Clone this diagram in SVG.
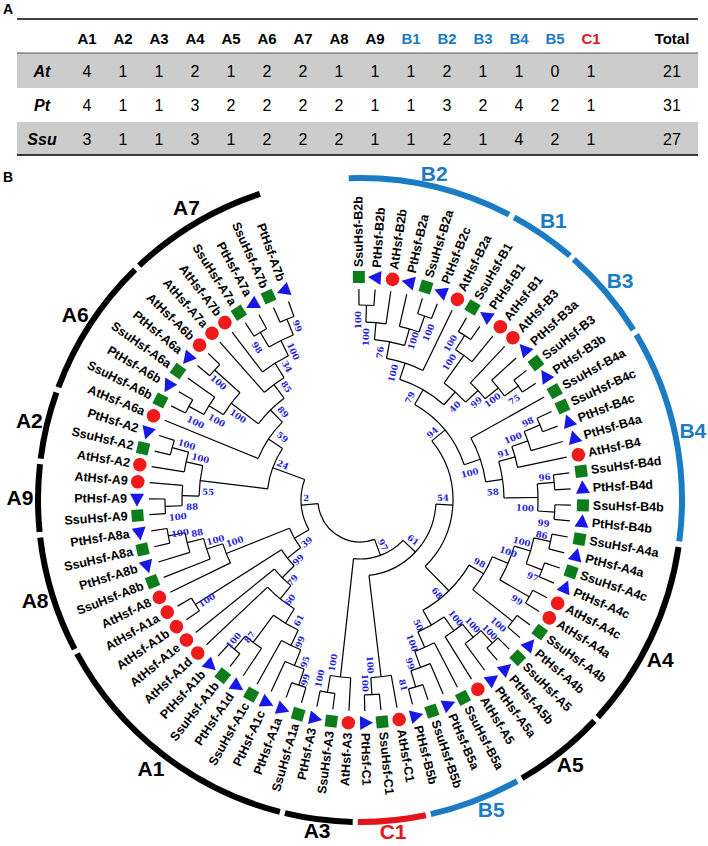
<svg xmlns="http://www.w3.org/2000/svg" xmlns:xlink="http://www.w3.org/1999/xlink" width="708" height="846" viewBox="0 0 708 846">
<style>
.pa{font-family:"Liberation Sans",Arial,sans-serif;font-weight:bold;font-size:14px}
.hd{font-family:"Liberation Sans",Arial,sans-serif;font-weight:bold;font-size:15px;text-anchor:middle;dominant-baseline:central}
.val{font-family:"Liberation Sans",Arial,sans-serif;font-size:16px;text-anchor:middle;dominant-baseline:central}
.rl{font-family:"Liberation Sans",Arial,sans-serif;font-weight:bold;font-style:italic;font-size:16px;text-anchor:middle;dominant-baseline:central}
.bl{fill:#1b7cc4}
.rd{fill:#e3141c}
.e{fill:none;stroke:#000;stroke-width:1.2}
.lf{font-family:"Liberation Sans",Arial,sans-serif;font-weight:bold;font-size:12.5px;dominant-baseline:central}
.ll{text-anchor:end}
.bs{font-family:"DejaVu Serif",serif;font-weight:bold;font-size:8.6px;fill:#2323d6;text-anchor:middle;dominant-baseline:central}
.ca{fill:none;stroke-width:6}
.cl{font-family:"Liberation Sans",Arial,sans-serif;font-weight:bold;font-size:21px;text-anchor:middle;dominant-baseline:central}
</style>
<defs>
<circle id="mc" r="6.8" fill="#f01a1a"/>
<rect id="ms" x="-6" y="-6" width="12" height="12" fill="#0d7d1c"/>
<path id="mt" d="M0,-8 L7,5 L-7,5Z" fill="#1717e6"/>
</defs>
<rect width="708" height="846" fill="#fff"/>
<g id="panel-a">
<text class="pa" x="3" y="14">A</text>
<rect x="17" y="53" width="681" height="35" fill="#cccccc"/>
<rect x="17" y="122" width="681" height="33" fill="#cccccc"/>
<line x1="17" y1="19" x2="698" y2="19" stroke="#000" stroke-width="1.5"/>
<line x1="17" y1="53" x2="698" y2="53" stroke="#555" stroke-width="1"/>
<line x1="17" y1="155" x2="698" y2="155" stroke="#000" stroke-width="1.5"/>
<g class="hd">
<text x="87" y="38">A1</text><text x="123" y="38">A2</text><text x="159" y="38">A3</text><text x="195" y="38">A4</text><text x="231" y="38">A5</text><text x="267" y="38">A6</text><text x="303" y="38">A7</text><text x="339" y="38">A8</text><text x="375" y="38">A9</text>
<text class="bl" x="411" y="38">B1</text><text class="bl" x="447" y="38">B2</text><text class="bl" x="483" y="38">B3</text><text class="bl" x="519" y="38">B4</text><text class="bl" x="555" y="38">B5</text><text class="rd" x="591" y="38">C1</text><text x="672" y="38">Total</text>
</g>
<text class="rl" x="42" y="71">At</text><text class="rl" x="42" y="105">Pt</text><text class="rl" x="42" y="139">Ssu</text>
<g class="val">
<text x="87" y="71">4</text><text x="123" y="71">1</text><text x="159" y="71">1</text><text x="195" y="71">2</text><text x="231" y="71">1</text><text x="267" y="71">2</text><text x="303" y="71">2</text><text x="339" y="71">1</text><text x="375" y="71">1</text><text x="411" y="71">1</text><text x="447" y="71">2</text><text x="483" y="71">1</text><text x="519" y="71">1</text><text x="555" y="71">0</text><text x="591" y="71">1</text><text x="672" y="71">21</text>
<text x="87" y="105">4</text><text x="123" y="105">1</text><text x="159" y="105">1</text><text x="195" y="105">3</text><text x="231" y="105">2</text><text x="267" y="105">2</text><text x="303" y="105">2</text><text x="339" y="105">2</text><text x="375" y="105">1</text><text x="411" y="105">1</text><text x="447" y="105">3</text><text x="483" y="105">2</text><text x="519" y="105">4</text><text x="555" y="105">2</text><text x="591" y="105">1</text><text x="672" y="105">31</text>
<text x="87" y="139">3</text><text x="123" y="139">1</text><text x="159" y="139">1</text><text x="195" y="139">3</text><text x="231" y="139">1</text><text x="267" y="139">2</text><text x="303" y="139">2</text><text x="339" y="139">2</text><text x="375" y="139">1</text><text x="411" y="139">1</text><text x="447" y="139">2</text><text x="483" y="139">1</text><text x="519" y="139">4</text><text x="555" y="139">2</text><text x="591" y="139">1</text><text x="672" y="139">27</text>
</g>
</g>
<text class="pa" x="3" y="182">B</text>
<g id="tree" transform="translate(360 500)">
<g id="connectors" class="e">
<circle r="195" pathLength="360" stroke-dasharray="4.4 720" transform="rotate(-90.3)"/>
<circle r="178" pathLength="360" stroke-dasharray="6.5 720" transform="rotate(-88.1)"/>
<circle r="195" pathLength="360" stroke-dasharray="4.3 720" transform="rotate(-72.8)"/>
<circle r="178" pathLength="360" stroke-dasharray="6.55 720" transform="rotate(-77.2)"/>
<circle r="161" pathLength="360" stroke-dasharray="10.95 720" transform="rotate(-84.85)"/>
<circle r="144" pathLength="360" stroke-dasharray="15.3 720" transform="rotate(-79.4)"/>
<circle r="195" pathLength="360" stroke-dasharray="4.3 720" transform="rotate(-59.7)"/>
<circle r="178" pathLength="360" stroke-dasharray="6.55 720" transform="rotate(-57.55)"/>
<circle r="195" pathLength="360" stroke-dasharray="4.3 720" transform="rotate(-37.9)"/>
<circle r="178" pathLength="360" stroke-dasharray="6.55 720" transform="rotate(-42.3)"/>
<circle r="161" pathLength="360" stroke-dasharray="7.7 720" transform="rotate(-46.7)"/>
<circle r="144" pathLength="360" stroke-dasharray="11.45 720" transform="rotate(-54.3)"/>
<circle r="127" pathLength="360" stroke-dasharray="23.15 720" transform="rotate(-71.75)"/>
<circle r="195" pathLength="360" stroke-dasharray="4.3 720" transform="rotate(-24.8)"/>
<circle r="178" pathLength="360" stroke-dasharray="6.55 720" transform="rotate(-22.65)"/>
<circle r="161" pathLength="360" stroke-dasharray="7.7 720" transform="rotate(-19.4)"/>
<circle r="195" pathLength="360" stroke-dasharray="4.4 720" transform="rotate(-7.4)"/>
<circle r="195" pathLength="360" stroke-dasharray="4.3 720" transform="rotate(1.4)"/>
<circle r="178" pathLength="360" stroke-dasharray="8.75 720" transform="rotate(-5.2)"/>
<circle r="144" pathLength="360" stroke-dasharray="14.75 720" transform="rotate(-15.55)"/>
<circle r="127" pathLength="360" stroke-dasharray="21 720" transform="rotate(-29.2)"/>
<circle r="110" pathLength="360" stroke-dasharray="41.5 720" transform="rotate(-60.2)"/>
<circle r="195" pathLength="360" stroke-dasharray="4.4 720" transform="rotate(10.1)"/>
<circle r="195" pathLength="360" stroke-dasharray="4.4 720" transform="rotate(18.8)"/>
<circle r="178" pathLength="360" stroke-dasharray="8.7 720" transform="rotate(12.3)"/>
<circle r="195" pathLength="360" stroke-dasharray="4.3 720" transform="rotate(27.6)"/>
<circle r="161" pathLength="360" stroke-dasharray="13.1 720" transform="rotate(16.65)"/>
<circle r="195" pathLength="360" stroke-dasharray="4.4 720" transform="rotate(36.3)"/>
<circle r="144" pathLength="360" stroke-dasharray="15.3 720" transform="rotate(23.2)"/>
<circle r="195" pathLength="360" stroke-dasharray="4.4 720" transform="rotate(45)"/>
<circle r="178" pathLength="360" stroke-dasharray="6.6 720" transform="rotate(47.2)"/>
<circle r="161" pathLength="360" stroke-dasharray="7.6 720" transform="rotate(50.5)"/>
<circle r="195" pathLength="360" stroke-dasharray="4.4 720" transform="rotate(71.2)"/>
<circle r="178" pathLength="360" stroke-dasharray="6.6 720" transform="rotate(66.8)"/>
<circle r="161" pathLength="360" stroke-dasharray="7.6 720" transform="rotate(62.5)"/>
<circle r="144" pathLength="360" stroke-dasharray="12 720" transform="rotate(54.3)"/>
<circle r="127" pathLength="360" stroke-dasharray="29.45 720" transform="rotate(30.85)"/>
<circle r="93" pathLength="360" stroke-dasharray="85.05 720" transform="rotate(-39.45)"/>
<circle r="195" pathLength="360" stroke-dasharray="4.4 720" transform="rotate(84.3)"/>
<circle r="178" pathLength="360" stroke-dasharray="6.6 720" transform="rotate(79.9)"/>
<circle r="76" pathLength="360" stroke-dasharray="80.1 720" transform="rotate(3.1)"/>
<circle r="195" pathLength="360" stroke-dasharray="4.4 720" transform="rotate(97.4)"/>
<circle r="178" pathLength="360" stroke-dasharray="6.6 720" transform="rotate(93)"/>
<circle r="59" pathLength="360" stroke-dasharray="53.15 720" transform="rotate(43.15)"/>
<circle r="195" pathLength="360" stroke-dasharray="4.4 720" transform="rotate(106.1)"/>
<circle r="178" pathLength="360" stroke-dasharray="6.6 720" transform="rotate(108.3)"/>
<circle r="161" pathLength="360" stroke-dasharray="7.6 720" transform="rotate(111.6)"/>
<circle r="195" pathLength="360" stroke-dasharray="4.3 720" transform="rotate(128)"/>
<circle r="178" pathLength="360" stroke-dasharray="6.55 720" transform="rotate(123.6)"/>
<circle r="144" pathLength="360" stroke-dasharray="11.5 720" transform="rotate(115.4)"/>
<circle r="127" pathLength="360" stroke-dasharray="15.55 720" transform="rotate(121.15)"/>
<circle r="110" pathLength="360" stroke-dasharray="12.2 720" transform="rotate(128.9)"/>
<circle r="195" pathLength="360" stroke-dasharray="4.4 720" transform="rotate(145.4)"/>
<circle r="93" pathLength="360" stroke-dasharray="12.6 720" transform="rotate(135)"/>
<circle r="195" pathLength="360" stroke-dasharray="4.4 720" transform="rotate(167.2)"/>
<circle r="178" pathLength="360" stroke-dasharray="6.5 720" transform="rotate(162.9)"/>
<circle r="161" pathLength="360" stroke-dasharray="7.65 720" transform="rotate(158.5)"/>
<circle r="144" pathLength="360" stroke-dasharray="8.2 720" transform="rotate(154.1)"/>
<circle r="76" pathLength="360" stroke-dasharray="16.9 720" transform="rotate(141.3)"/>
<circle r="195" pathLength="360" stroke-dasharray="4.3 720" transform="rotate(176)"/>
<circle r="178" pathLength="360" stroke-dasharray="6.55 720" transform="rotate(178.15)"/>
<circle r="195" pathLength="360" stroke-dasharray="4.4 720" transform="rotate(193.4)"/>
<circle r="178" pathLength="360" stroke-dasharray="6.5 720" transform="rotate(189.1)"/>
<circle r="161" pathLength="360" stroke-dasharray="10.95 720" transform="rotate(181.4)"/>
<circle r="195" pathLength="360" stroke-dasharray="4.4 720" transform="rotate(206.5)"/>
<circle r="178" pathLength="360" stroke-dasharray="6.6 720" transform="rotate(208.7)"/>
<circle r="195" pathLength="360" stroke-dasharray="4.4 720" transform="rotate(219.6)"/>
<circle r="161" pathLength="360" stroke-dasharray="9.8 720" transform="rotate(212)"/>
<circle r="195" pathLength="360" stroke-dasharray="4.3 720" transform="rotate(237.1)"/>
<circle r="195" pathLength="360" stroke-dasharray="4.4 720" transform="rotate(245.8)"/>
<circle r="178" pathLength="360" stroke-dasharray="8.75 720" transform="rotate(239.25)"/>
<circle r="161" pathLength="360" stroke-dasharray="10.9 720" transform="rotate(232.7)"/>
<circle r="144" pathLength="360" stroke-dasharray="9.75 720" transform="rotate(228.4)"/>
<circle r="127" pathLength="360" stroke-dasharray="16.4 720" transform="rotate(216.9)"/>
<circle r="110" pathLength="360" stroke-dasharray="22.9 720" transform="rotate(202.2)"/>
<circle r="93" pathLength="360" stroke-dasharray="26.75 720" transform="rotate(186.9)"/>
<circle r="59" pathLength="360" stroke-dasharray="50.55 720" transform="rotate(149.75)"/>
<circle r="42" pathLength="360" stroke-dasharray="105.3 720" transform="rotate(69.7)"/>
<path transform="rotate(-90.3)" d="M195 0H211"/>
<path transform="rotate(-85.9)" d="M195 0H211"/>
<path transform="rotate(-81.6)" d="M178 0H211"/>
<path transform="rotate(-77.2)" d="M178 0H211"/>
<path transform="rotate(-72.8)" d="M195 0H211"/>
<path transform="rotate(-68.5)" d="M195 0H211"/>
<path transform="rotate(-64.1)" d="M144 0H211"/>
<path transform="rotate(-59.7)" d="M195 0H211"/>
<path transform="rotate(-55.4)" d="M195 0H211"/>
<path transform="rotate(-51)" d="M178 0H211"/>
<path transform="rotate(-46.7)" d="M161 0H211"/>
<path transform="rotate(-42.3)" d="M178 0H211"/>
<path transform="rotate(-37.9)" d="M195 0H211"/>
<path transform="rotate(-33.6)" d="M195 0H211"/>
<path transform="rotate(-29.2)" d="M127 0H211"/>
<path transform="rotate(-24.8)" d="M195 0H211"/>
<path transform="rotate(-20.5)" d="M195 0H211"/>
<path transform="rotate(-16.1)" d="M178 0H211"/>
<path transform="rotate(-11.7)" d="M161 0H211"/>
<path transform="rotate(-7.4)" d="M195 0H211"/>
<path transform="rotate(-3)" d="M195 0H211"/>
<path transform="rotate(1.4)" d="M195 0H211"/>
<path transform="rotate(5.7)" d="M195 0H211"/>
<path transform="rotate(10.1)" d="M195 0H211"/>
<path transform="rotate(14.5)" d="M195 0H211"/>
<path transform="rotate(18.8)" d="M195 0H211"/>
<path transform="rotate(23.2)" d="M195 0H211"/>
<path transform="rotate(27.6)" d="M195 0H211"/>
<path transform="rotate(31.9)" d="M195 0H211"/>
<path transform="rotate(36.3)" d="M195 0H211"/>
<path transform="rotate(40.7)" d="M195 0H211"/>
<path transform="rotate(45)" d="M195 0H211"/>
<path transform="rotate(49.4)" d="M195 0H211"/>
<path transform="rotate(53.8)" d="M178 0H211"/>
<path transform="rotate(58.1)" d="M161 0H211"/>
<path transform="rotate(62.5)" d="M161 0H211"/>
<path transform="rotate(66.8)" d="M178 0H211"/>
<path transform="rotate(71.2)" d="M195 0H211"/>
<path transform="rotate(75.6)" d="M195 0H211"/>
<path transform="rotate(79.9)" d="M178 0H211"/>
<path transform="rotate(84.3)" d="M195 0H211"/>
<path transform="rotate(88.7)" d="M195 0H211"/>
<path transform="rotate(93)" d="M178 0H211"/>
<path transform="rotate(97.4)" d="M195 0H211"/>
<path transform="rotate(101.8)" d="M195 0H211"/>
<path transform="rotate(106.1)" d="M195 0H211"/>
<path transform="rotate(110.5)" d="M195 0H211"/>
<path transform="rotate(114.9)" d="M178 0H211"/>
<path transform="rotate(119.2)" d="M161 0H211"/>
<path transform="rotate(123.6)" d="M178 0H211"/>
<path transform="rotate(128)" d="M195 0H211"/>
<path transform="rotate(132.3)" d="M195 0H211"/>
<path transform="rotate(136.7)" d="M127 0H211"/>
<path transform="rotate(141.1)" d="M110 0H211"/>
<path transform="rotate(145.4)" d="M195 0H211"/>
<path transform="rotate(149.8)" d="M195 0H211"/>
<path transform="rotate(154.1)" d="M144 0H211"/>
<path transform="rotate(158.5)" d="M161 0H211"/>
<path transform="rotate(162.9)" d="M178 0H211"/>
<path transform="rotate(167.2)" d="M195 0H211"/>
<path transform="rotate(171.6)" d="M195 0H211"/>
<path transform="rotate(176)" d="M195 0H211"/>
<path transform="rotate(180.3)" d="M195 0H211"/>
<path transform="rotate(184.7)" d="M178 0H211"/>
<path transform="rotate(189.1)" d="M178 0H211"/>
<path transform="rotate(193.4)" d="M195 0H211"/>
<path transform="rotate(197.8)" d="M195 0H211"/>
<path transform="rotate(202.2)" d="M110 0H211"/>
<path transform="rotate(206.5)" d="M195 0H211"/>
<path transform="rotate(210.9)" d="M195 0H211"/>
<path transform="rotate(215.3)" d="M178 0H211"/>
<path transform="rotate(219.6)" d="M195 0H211"/>
<path transform="rotate(224)" d="M195 0H211"/>
<path transform="rotate(228.4)" d="M144 0H211"/>
<path transform="rotate(232.7)" d="M161 0H211"/>
<path transform="rotate(237.1)" d="M195 0H211"/>
<path transform="rotate(241.4)" d="M195 0H211"/>
<path transform="rotate(245.8)" d="M195 0H211"/>
<path transform="rotate(250.2)" d="M195 0H211"/>
<path transform="rotate(-88.1)" d="M178 0H195"/>
<path transform="rotate(-84.85)" d="M161 0H178"/>
<path transform="rotate(-70.65)" d="M178 0H195"/>
<path transform="rotate(-73.9)" d="M161 0H178"/>
<path transform="rotate(-79.4)" d="M144 0H161"/>
<path transform="rotate(-71.75)" d="M127 0H144"/>
<path transform="rotate(-57.55)" d="M178 0H195"/>
<path transform="rotate(-54.3)" d="M144 0H178"/>
<path transform="rotate(-35.75)" d="M178 0H195"/>
<path transform="rotate(-39)" d="M161 0H178"/>
<path transform="rotate(-42.85)" d="M144 0H161"/>
<path transform="rotate(-48.6)" d="M127 0H144"/>
<path transform="rotate(-60.2)" d="M110 0H127"/>
<path transform="rotate(-22.65)" d="M178 0H195"/>
<path transform="rotate(-19.4)" d="M161 0H178"/>
<path transform="rotate(-15.55)" d="M144 0H161"/>
<path transform="rotate(-5.2)" d="M178 0H195"/>
<path transform="rotate(3.55)" d="M178 0H195"/>
<path transform="rotate(-0.8)" d="M144 0H178"/>
<path transform="rotate(-8.2)" d="M127 0H144"/>
<path transform="rotate(-18.7)" d="M110 0H127"/>
<path transform="rotate(-39.45)" d="M93 0H110"/>
<path transform="rotate(12.3)" d="M178 0H195"/>
<path transform="rotate(21)" d="M178 0H195"/>
<path transform="rotate(16.65)" d="M161 0H178"/>
<path transform="rotate(29.75)" d="M161 0H195"/>
<path transform="rotate(23.2)" d="M144 0H161"/>
<path transform="rotate(38.5)" d="M144 0H195"/>
<path transform="rotate(30.85)" d="M127 0H144"/>
<path transform="rotate(47.2)" d="M178 0H195"/>
<path transform="rotate(50.5)" d="M161 0H178"/>
<path transform="rotate(54.3)" d="M144 0H161"/>
<path transform="rotate(73.4)" d="M178 0H195"/>
<path transform="rotate(70.1)" d="M161 0H178"/>
<path transform="rotate(66.3)" d="M144 0H161"/>
<path transform="rotate(60.3)" d="M127 0H144"/>
<path transform="rotate(45.6)" d="M93 0H127"/>
<path transform="rotate(3.1)" d="M76 0H93"/>
<path transform="rotate(86.5)" d="M178 0H195"/>
<path transform="rotate(83.2)" d="M76 0H178"/>
<path transform="rotate(43.15)" d="M59 0H76"/>
<path transform="rotate(99.6)" d="M178 0H195"/>
<path transform="rotate(96.3)" d="M59 0H178"/>
<path transform="rotate(69.7)" d="M42 0H59"/>
<path transform="rotate(108.3)" d="M178 0H195"/>
<path transform="rotate(111.6)" d="M161 0H178"/>
<path transform="rotate(115.4)" d="M144 0H161"/>
<path transform="rotate(130.15)" d="M178 0H195"/>
<path transform="rotate(126.9)" d="M144 0H178"/>
<path transform="rotate(121.15)" d="M127 0H144"/>
<path transform="rotate(128.9)" d="M110 0H127"/>
<path transform="rotate(135)" d="M93 0H110"/>
<path transform="rotate(147.6)" d="M93 0H195"/>
<path transform="rotate(141.3)" d="M76 0H93"/>
<path transform="rotate(169.4)" d="M178 0H195"/>
<path transform="rotate(166.15)" d="M161 0H178"/>
<path transform="rotate(162.3)" d="M144 0H161"/>
<path transform="rotate(158.2)" d="M76 0H144"/>
<path transform="rotate(149.75)" d="M59 0H76"/>
<path transform="rotate(178.15)" d="M178 0H195"/>
<path transform="rotate(181.4)" d="M161 0H178"/>
<path transform="rotate(195.6)" d="M178 0H195"/>
<path transform="rotate(192.35)" d="M161 0H178"/>
<path transform="rotate(186.9)" d="M93 0H161"/>
<path transform="rotate(208.7)" d="M178 0H195"/>
<path transform="rotate(212)" d="M161 0H178"/>
<path transform="rotate(221.8)" d="M161 0H195"/>
<path transform="rotate(216.9)" d="M127 0H161"/>
<path transform="rotate(239.25)" d="M178 0H195"/>
<path transform="rotate(248)" d="M178 0H195"/>
<path transform="rotate(243.6)" d="M161 0H178"/>
<path transform="rotate(238.15)" d="M144 0H161"/>
<path transform="rotate(233.3)" d="M127 0H144"/>
<path transform="rotate(225.1)" d="M110 0H127"/>
<path transform="rotate(213.65)" d="M93 0H110"/>
<path transform="rotate(200.3)" d="M59 0H93"/>
<path transform="rotate(175)" d="M42 0H59"/>
</g>
<g id="leaves">
<g id="n-SsuHsf-B2b" transform="rotate(-90.3)"><use href="#ms" x="223"/><text class="lf" x="233">SsuHsf-B2b</text></g>
<g id="n-PtHsf-B2b" transform="rotate(-85.9)"><use href="#mt" x="223"/><text class="lf" x="233">PtHsf-B2b</text></g>
<g id="n-AtHsf-B2b" transform="rotate(-81.6)"><use href="#mc" x="223"/><text class="lf" x="233">AtHsf-B2b</text></g>
<g id="n-PtHsf-B2a" transform="rotate(-77.2)"><use href="#mt" x="223"/><text class="lf" x="233">PtHsf-B2a</text></g>
<g id="n-SsuHsf-B2a" transform="rotate(-72.8)"><use href="#ms" x="223"/><text class="lf" x="233">SsuHsf-B2a</text></g>
<g id="n-PtHsf-B2c" transform="rotate(-68.5)"><use href="#mt" x="223"/><text class="lf" x="233">PtHsf-B2c</text></g>
<g id="n-AtHsf-B2a" transform="rotate(-64.1)"><use href="#mc" x="223"/><text class="lf" x="233">AtHsf-B2a</text></g>
<g id="n-SsuHsf-B1" transform="rotate(-59.7)"><use href="#ms" x="223"/><text class="lf" x="233">SsuHsf-B1</text></g>
<g id="n-PtHsf-B1" transform="rotate(-55.4)"><use href="#mt" x="223"/><text class="lf" x="233">PtHsf-B1</text></g>
<g id="n-AtHsf-B1" transform="rotate(-51)"><use href="#mc" x="223"/><text class="lf" x="233">AtHsf-B1</text></g>
<g id="n-AtHsf-B3" transform="rotate(-46.7)"><use href="#mc" x="223"/><text class="lf" x="233">AtHsf-B3</text></g>
<g id="n-PtHsf-B3a" transform="rotate(-42.3)"><use href="#mt" x="223"/><text class="lf" x="233">PtHsf-B3a</text></g>
<g id="n-SsuHsf-B3" transform="rotate(-37.9)"><use href="#ms" x="223"/><text class="lf" x="233">SsuHsf-B3</text></g>
<g id="n-PtHsf-B3b" transform="rotate(-33.6)"><use href="#mt" x="223"/><text class="lf" x="233">PtHsf-B3b</text></g>
<g id="n-SsuHsf-B4a" transform="rotate(-29.2)"><use href="#ms" x="223"/><text class="lf" x="233">SsuHsf-B4a</text></g>
<g id="n-SsuHsf-B4c" transform="rotate(-24.8)"><use href="#ms" x="223"/><text class="lf" x="233">SsuHsf-B4c</text></g>
<g id="n-PtHsf-B4c" transform="rotate(-20.5)"><use href="#mt" x="223"/><text class="lf" x="233">PtHsf-B4c</text></g>
<g id="n-PtHsf-B4a" transform="rotate(-16.1)"><use href="#mt" x="223"/><text class="lf" x="233">PtHsf-B4a</text></g>
<g id="n-AtHsf-B4" transform="rotate(-11.7)"><use href="#mc" x="223"/><text class="lf" x="233">AtHsf-B4</text></g>
<g id="n-SsuHsf-B4d" transform="rotate(-7.4)"><use href="#ms" x="223"/><text class="lf" x="233">SsuHsf-B4d</text></g>
<g id="n-PtHsf-B4d" transform="rotate(-3)"><use href="#mt" x="223"/><text class="lf" x="233">PtHsf-B4d</text></g>
<g id="n-SsuHsf-B4b" transform="rotate(1.4)"><use href="#ms" x="223"/><text class="lf" x="233">SsuHsf-B4b</text></g>
<g id="n-PtHsf-B4b" transform="rotate(5.7)"><use href="#mt" x="223"/><text class="lf" x="233">PtHsf-B4b</text></g>
<g id="n-SsuHsf-A4a" transform="rotate(10.1)"><use href="#ms" x="223"/><text class="lf" x="233">SsuHsf-A4a</text></g>
<g id="n-PtHsf-A4a" transform="rotate(14.5)"><use href="#mt" x="223"/><text class="lf" x="233">PtHsf-A4a</text></g>
<g id="n-SsuHsf-A4c" transform="rotate(18.8)"><use href="#ms" x="223"/><text class="lf" x="233">SsuHsf-A4c</text></g>
<g id="n-PtHsf-A4c" transform="rotate(23.2)"><use href="#mt" x="223"/><text class="lf" x="233">PtHsf-A4c</text></g>
<g id="n-AtHsf-A4c" transform="rotate(27.6)"><use href="#mc" x="223"/><text class="lf" x="233">AtHsf-A4c</text></g>
<g id="n-AtHsf-A4a" transform="rotate(31.9)"><use href="#mc" x="223"/><text class="lf" x="233">AtHsf-A4a</text></g>
<g id="n-SsuHsf-A4b" transform="rotate(36.3)"><use href="#ms" x="223"/><text class="lf" x="233">SsuHsf-A4b</text></g>
<g id="n-PtHsf-A4b" transform="rotate(40.7)"><use href="#mt" x="223"/><text class="lf" x="233">PtHsf-A4b</text></g>
<g id="n-SsuHsf-A5" transform="rotate(45)"><use href="#ms" x="223"/><text class="lf" x="233">SsuHsf-A5</text></g>
<g id="n-PtHsf-A5b" transform="rotate(49.4)"><use href="#mt" x="223"/><text class="lf" x="233">PtHsf-A5b</text></g>
<g id="n-PtHsf-A5a" transform="rotate(53.8)"><use href="#mt" x="223"/><text class="lf" x="233">PtHsf-A5a</text></g>
<g id="n-AtHsf-A5" transform="rotate(58.1)"><use href="#mc" x="223"/><text class="lf" x="233">AtHsf-A5</text></g>
<g id="n-SsuHsf-B5a" transform="rotate(62.5)"><use href="#ms" x="223"/><text class="lf" x="233">SsuHsf-B5a</text></g>
<g id="n-PtHsf-B5a" transform="rotate(66.8)"><use href="#mt" x="223"/><text class="lf" x="233">PtHsf-B5a</text></g>
<g id="n-SsuHsf-B5b" transform="rotate(71.2)"><use href="#ms" x="223"/><text class="lf" x="233">SsuHsf-B5b</text></g>
<g id="n-PtHsf-B5b" transform="rotate(75.6)"><use href="#mt" x="223"/><text class="lf" x="233">PtHsf-B5b</text></g>
<g id="n-AtHsf-C1" transform="rotate(79.9)"><use href="#mc" x="223"/><text class="lf" x="233">AtHsf-C1</text></g>
<g id="n-SsuHsf-C1" transform="rotate(84.3)"><use href="#ms" x="223"/><text class="lf" x="233">SsuHsf-C1</text></g>
<g id="n-PtHsf-C1" transform="rotate(88.7)"><use href="#mt" x="223"/><text class="lf" x="233">PtHsf-C1</text></g>
<g id="n-AtHsf-A3" transform="rotate(93)"><use href="#mc" x="223"/><text class="lf ll" x="233" transform="rotate(180 233 0)">AtHsf-A3</text></g>
<g id="n-SsuHsf-A3" transform="rotate(97.4)"><use href="#ms" x="223"/><text class="lf ll" x="233" transform="rotate(180 233 0)">SsuHsf-A3</text></g>
<g id="n-PtHsf-A3" transform="rotate(101.8)"><use href="#mt" x="223"/><text class="lf ll" x="233" transform="rotate(180 233 0)">PtHsf-A3</text></g>
<g id="n-SsuHsf-A1a" transform="rotate(106.1)"><use href="#ms" x="223"/><text class="lf ll" x="233" transform="rotate(180 233 0)">SsuHsf-A1a</text></g>
<g id="n-PtHsf-A1a" transform="rotate(110.5)"><use href="#mt" x="223"/><text class="lf ll" x="233" transform="rotate(180 233 0)">PtHsf-A1a</text></g>
<g id="n-PtHsf-A1c" transform="rotate(114.9)"><use href="#mt" x="223"/><text class="lf ll" x="233" transform="rotate(180 233 0)">PtHsf-A1c</text></g>
<g id="n-SsuHsf-A1c" transform="rotate(119.2)"><use href="#ms" x="223"/><text class="lf ll" x="233" transform="rotate(180 233 0)">SsuHsf-A1c</text></g>
<g id="n-PtHsf-A1d" transform="rotate(123.6)"><use href="#mt" x="223"/><text class="lf ll" x="233" transform="rotate(180 233 0)">PtHsf-A1d</text></g>
<g id="n-SsuHsf-A1b" transform="rotate(128)"><use href="#ms" x="223"/><text class="lf ll" x="233" transform="rotate(180 233 0)">SsuHsf-A1b</text></g>
<g id="n-PtHsf-A1b" transform="rotate(132.3)"><use href="#mt" x="223"/><text class="lf ll" x="233" transform="rotate(180 233 0)">PtHsf-A1b</text></g>
<g id="n-AtHsf-A1d" transform="rotate(136.7)"><use href="#mc" x="223"/><text class="lf ll" x="233" transform="rotate(180 233 0)">AtHsf-A1d</text></g>
<g id="n-AtHsf-A1e" transform="rotate(141.1)"><use href="#mc" x="223"/><text class="lf ll" x="233" transform="rotate(180 233 0)">AtHsf-A1e</text></g>
<g id="n-AtHsf-A1b" transform="rotate(145.4)"><use href="#mc" x="223"/><text class="lf ll" x="233" transform="rotate(180 233 0)">AtHsf-A1b</text></g>
<g id="n-AtHsf-A1a" transform="rotate(149.8)"><use href="#mc" x="223"/><text class="lf ll" x="233" transform="rotate(180 233 0)">AtHsf-A1a</text></g>
<g id="n-AtHsf-A8" transform="rotate(154.1)"><use href="#mc" x="223"/><text class="lf ll" x="233" transform="rotate(180 233 0)">AtHsf-A8</text></g>
<g id="n-SsuHsf-A8b" transform="rotate(158.5)"><use href="#ms" x="223"/><text class="lf ll" x="233" transform="rotate(180 233 0)">SsuHsf-A8b</text></g>
<g id="n-PtHsf-A8b" transform="rotate(162.9)"><use href="#mt" x="223"/><text class="lf ll" x="233" transform="rotate(180 233 0)">PtHsf-A8b</text></g>
<g id="n-SsuHsf-A8a" transform="rotate(167.2)"><use href="#ms" x="223"/><text class="lf ll" x="233" transform="rotate(180 233 0)">SsuHsf-A8a</text></g>
<g id="n-PtHsf-A8a" transform="rotate(171.6)"><use href="#mt" x="223"/><text class="lf ll" x="233" transform="rotate(180 233 0)">PtHsf-A8a</text></g>
<g id="n-SsuHsf-A9" transform="rotate(176)"><use href="#ms" x="223"/><text class="lf ll" x="233" transform="rotate(180 233 0)">SsuHsf-A9</text></g>
<g id="n-PtHsf-A9" transform="rotate(180.3)"><use href="#mt" x="223"/><text class="lf ll" x="233" transform="rotate(180 233 0)">PtHsf-A9</text></g>
<g id="n-AtHsf-A9" transform="rotate(184.7)"><use href="#mc" x="223"/><text class="lf ll" x="233" transform="rotate(180 233 0)">AtHsf-A9</text></g>
<g id="n-AtHsf-A2" transform="rotate(189.1)"><use href="#mc" x="223"/><text class="lf ll" x="233" transform="rotate(180 233 0)">AtHsf-A2</text></g>
<g id="n-SsuHsf-A2" transform="rotate(193.4)"><use href="#ms" x="223"/><text class="lf ll" x="233" transform="rotate(180 233 0)">SsuHsf-A2</text></g>
<g id="n-PtHsf-A2" transform="rotate(197.8)"><use href="#mt" x="223"/><text class="lf ll" x="233" transform="rotate(180 233 0)">PtHsf-A2</text></g>
<g id="n-AtHsf-A6a" transform="rotate(202.2)"><use href="#mc" x="223"/><text class="lf ll" x="233" transform="rotate(180 233 0)">AtHsf-A6a</text></g>
<g id="n-SsuHsf-A6b" transform="rotate(206.5)"><use href="#ms" x="223"/><text class="lf ll" x="233" transform="rotate(180 233 0)">SsuHsf-A6b</text></g>
<g id="n-PtHsf-A6b" transform="rotate(210.9)"><use href="#mt" x="223"/><text class="lf ll" x="233" transform="rotate(180 233 0)">PtHsf-A6b</text></g>
<g id="n-SsuHsf-A6a" transform="rotate(215.3)"><use href="#ms" x="223"/><text class="lf ll" x="233" transform="rotate(180 233 0)">SsuHsf-A6a</text></g>
<g id="n-PtHsf-A6a" transform="rotate(219.6)"><use href="#mt" x="223"/><text class="lf ll" x="233" transform="rotate(180 233 0)">PtHsf-A6a</text></g>
<g id="n-AtHsf-A6b" transform="rotate(224)"><use href="#mc" x="223"/><text class="lf ll" x="233" transform="rotate(180 233 0)">AtHsf-A6b</text></g>
<g id="n-AtHsf-A7a" transform="rotate(228.4)"><use href="#mc" x="223"/><text class="lf ll" x="233" transform="rotate(180 233 0)">AtHsf-A7a</text></g>
<g id="n-AtHsf-A7b" transform="rotate(232.7)"><use href="#mc" x="223"/><text class="lf ll" x="233" transform="rotate(180 233 0)">AtHsf-A7b</text></g>
<g id="n-SsuHsf-A7a" transform="rotate(237.1)"><use href="#ms" x="223"/><text class="lf ll" x="233" transform="rotate(180 233 0)">SsuHsf-A7a</text></g>
<g id="n-PtHsf-A7a" transform="rotate(241.4)"><use href="#mt" x="223"/><text class="lf ll" x="233" transform="rotate(180 233 0)">PtHsf-A7a</text></g>
<g id="n-SsuHsf-A7b" transform="rotate(245.8)"><use href="#ms" x="223"/><text class="lf ll" x="233" transform="rotate(180 233 0)">SsuHsf-A7b</text></g>
<g id="n-PtHsf-A7b" transform="rotate(250.2)"><use href="#mt" x="223"/><text class="lf ll" x="233" transform="rotate(180 233 0)">PtHsf-A7b</text></g>
</g>
<g id="bootstrap">
<text class="bs" transform="rotate(-90.6) translate(180 0)">100</text>
<text class="bs" transform="rotate(-87.9) translate(163 0)">100</text>
<text class="bs" transform="rotate(-82.3) translate(149 0)">76</text>
<text class="bs" transform="rotate(-75.4) translate(131 0)">100</text>
<text class="bs" transform="rotate(-71.5) translate(168 0)">100</text>
<text class="bs" transform="rotate(-67.7) translate(181 0)">100</text>
<text class="bs" transform="rotate(-60) translate(181 0)">100</text>
<text class="bs" transform="rotate(-57) translate(164 0)">100</text>
<text class="bs" transform="rotate(-33) translate(184 0)">75</text>
<text class="bs" transform="rotate(-37) translate(166 0)">100</text>
<text class="bs" transform="rotate(-40) translate(152 0)">99</text>
<text class="bs" transform="rotate(-44.4) translate(133 0)">40</text>
<text class="bs" transform="rotate(-64) translate(114 0)">79</text>
<text class="bs" transform="rotate(-43) translate(99 0)">94</text>
<text class="bs" transform="rotate(-24.9) translate(185 0)">98</text>
<text class="bs" transform="rotate(-22) translate(165 0)">100</text>
<text class="bs" transform="rotate(-18) translate(151 0)">91</text>
<text class="bs" transform="rotate(-7) translate(186 0)">96</text>
<text class="bs" transform="rotate(2.8) translate(165 0)">100</text>
<text class="bs" transform="rotate(7.2) translate(185 0)">99</text>
<text class="bs" transform="rotate(-3.4) translate(133 0)">58</text>
<text class="bs" transform="rotate(-13.8) translate(113 0)">100</text>
<text class="bs" transform="rotate(10.9) translate(185 0)">86</text>
<text class="bs" transform="rotate(14.5) translate(167 0)">100</text>
<text class="bs" transform="rotate(19.3) translate(157 0)">100</text>
<text class="bs" transform="rotate(24) translate(189 0)">97</text>
<text class="bs" transform="rotate(27.7) translate(135 0)">98</text>
<text class="bs" transform="rotate(32.5) translate(186 0)">99</text>
<text class="bs" transform="rotate(42) translate(186 0)">100</text>
<text class="bs" transform="rotate(45.5) translate(185 0)">100</text>
<text class="bs" transform="rotate(48) translate(168 0)">100</text>
<text class="bs" transform="rotate(51) translate(152 0)">100</text>
<text class="bs" transform="rotate(50.4) translate(121 0)">68</text>
<text class="bs" transform="rotate(65) translate(138 0)">50</text>
<text class="bs" transform="rotate(70) translate(152 0)">100</text>
<text class="bs" transform="rotate(73) translate(171 0)">99</text>
<text class="bs" transform="rotate(76.9) translate(190 0)">81</text>
<text class="bs" transform="rotate(-1.4) translate(83 0)">54</text>
<text class="bs" transform="rotate(37) translate(66.5 0)">61</text>
<text class="bs" transform="rotate(63) translate(50.5 0)">97</text>
<text class="bs" transform="rotate(86.5) translate(165 0)">100</text>
<text class="bs" transform="rotate(88.4) translate(183 0)">100</text>
<text class="bs" transform="rotate(99.4) translate(165 0) rotate(180)">100</text>
<text class="bs" transform="rotate(102.7) translate(183 0) rotate(180)">100</text>
<text class="bs" transform="rotate(106.9) translate(188 0) rotate(180)">99</text>
<text class="bs" transform="rotate(108.7) translate(171 0) rotate(180)">95</text>
<text class="bs" transform="rotate(112.9) translate(154 0) rotate(180)">99</text>
<text class="bs" transform="rotate(117) translate(135 0) rotate(180)">61</text>
<text class="bs" transform="rotate(125) translate(122 0) rotate(180)">60</text>
<text class="bs" transform="rotate(130) translate(105 0) rotate(180)">79</text>
<text class="bs" transform="rotate(136) translate(86 0) rotate(180)">99</text>
<text class="bs" transform="rotate(141.6) translate(68 0) rotate(180)">39</text>
<text class="bs" transform="rotate(128.8) translate(176 0) rotate(180)">87</text>
<text class="bs" transform="rotate(132) translate(189 0) rotate(180)">100</text>
<text class="bs" transform="rotate(146.8) translate(183 0) rotate(180)">100</text>
<text class="bs" transform="rotate(169.6) translate(183 0) rotate(180)">100</text>
<text class="bs" transform="rotate(168.6) translate(166 0) rotate(180)">88</text>
<text class="bs" transform="rotate(164.5) translate(150 0) rotate(180)">100</text>
<text class="bs" transform="rotate(161.6) translate(132 0) rotate(180)">100</text>
<text class="bs" transform="rotate(174.7) translate(183 0) rotate(180)">100</text>
<text class="bs" transform="rotate(177.7) translate(168 0) rotate(180)">88</text>
<text class="bs" transform="rotate(183) translate(152 0) rotate(180)">55</text>
<text class="bs" transform="rotate(197.7) translate(182 0) rotate(180)">100</text>
<text class="bs" transform="rotate(194.6) translate(165 0) rotate(180)">100</text>
<text class="bs" transform="rotate(182) translate(54 0) rotate(180)">2</text>
<text class="bs" transform="rotate(204.5) translate(85 0) rotate(180)">24</text>
<text class="bs" transform="rotate(219) translate(100 0) rotate(180)">59</text>
<text class="bs" transform="rotate(228.8) translate(117 0) rotate(180)">89</text>
<text class="bs" transform="rotate(205.3) translate(182 0) rotate(180)">100</text>
<text class="bs" transform="rotate(209) translate(164 0) rotate(180)">100</text>
<text class="bs" transform="rotate(214.5) translate(148 0) rotate(180)">100</text>
<text class="bs" transform="rotate(219.7) translate(184 0) rotate(180)">100</text>
<text class="bs" transform="rotate(236.9) translate(135 0) rotate(180)">85</text>
<text class="bs" transform="rotate(241.3) translate(152 0) rotate(180)">34</text>
<text class="bs" transform="rotate(245.8) translate(163 0) rotate(180)">100</text>
<text class="bs" transform="rotate(250.2) translate(185 0) rotate(180)">99</text>
<text class="bs" transform="rotate(236) translate(184 0) rotate(180)">98</text>
</g>
<g id="clades">
<circle class="ca" stroke="#1b7cc4" r="322" pathLength="360" stroke-dasharray="29.6 720" transform="rotate(-92)"/>
<circle class="ca" stroke="#1b7cc4" r="322" pathLength="360" stroke-dasharray="12.1 720" transform="rotate(-61.4)"/>
<circle class="ca" stroke="#1b7cc4" r="322" pathLength="360" stroke-dasharray="16.5 720" transform="rotate(-48.4)"/>
<circle class="ca" stroke="#1b7cc4" r="322" pathLength="360" stroke-dasharray="38.3 720" transform="rotate(-30.9)"/>
<circle class="ca" stroke="#000" r="322" pathLength="360" stroke-dasharray="34 720" transform="rotate(8.4)"/>
<circle class="ca" stroke="#000" r="322" pathLength="360" stroke-dasharray="16.5 720" transform="rotate(43.3)"/>
<circle class="ca" stroke="#1b7cc4" r="322" pathLength="360" stroke-dasharray="16.5 720" transform="rotate(60.8)"/>
<circle class="ca" stroke="#e3141c" r="322" pathLength="360" stroke-dasharray="12.2 720" transform="rotate(78.2)"/>
<circle class="ca" stroke="#000" r="322" pathLength="360" stroke-dasharray="12.2 720" transform="rotate(91.3)"/>
<circle class="ca" stroke="#000" r="322" pathLength="360" stroke-dasharray="47.1 720" transform="rotate(104.4)"/>
<circle class="ca" stroke="#000" r="322" pathLength="360" stroke-dasharray="20.9 720" transform="rotate(152.4)"/>
<circle class="ca" stroke="#000" r="322" pathLength="360" stroke-dasharray="12.1 720" transform="rotate(174.3)"/>
<circle class="ca" stroke="#000" r="322" pathLength="360" stroke-dasharray="12.1 720" transform="rotate(187.4)"/>
<circle class="ca" stroke="#000" r="322" pathLength="360" stroke-dasharray="25.2 720" transform="rotate(200.5)"/>
<circle class="ca" stroke="#000" r="322" pathLength="360" stroke-dasharray="25.2 720" transform="rotate(226.7)"/>
<text class="cl bl" transform="rotate(-77.2) translate(335 0) rotate(77.2)">B2</text>
<text class="cl bl" transform="rotate(-55.35) translate(340 0) rotate(55.35)">B1</text>
<text class="cl bl" transform="rotate(-40.1) translate(340 0) rotate(40.1)">B3</text>
<text class="cl bl" transform="rotate(-11.75) translate(340 0) rotate(11.75)">B4</text>
<text class="cl" transform="rotate(28) translate(340 0) rotate(-28)">A4</text>
<text class="cl" transform="rotate(51.55) translate(338 0) rotate(-51.55)">A5</text>
<text class="cl bl" transform="rotate(67) translate(336 0) rotate(-67)">B5</text>
<text class="cl rd" transform="rotate(84.3) translate(333 0) rotate(-84.3)">C1</text>
<text class="cl" transform="rotate(97.4) translate(333 0) rotate(-97.4)">A3</text>
<text class="cl" transform="rotate(127.95) translate(340 0) rotate(-127.95)">A1</text>
<text class="cl" transform="rotate(162.85) translate(340 0) rotate(-162.85)">A8</text>
<text class="cl" transform="rotate(180.35) translate(340 0) rotate(-180.35)">A9</text>
<text class="cl" transform="rotate(193.45) translate(340 0) rotate(-193.45)">A2</text>
<text class="cl" transform="rotate(213.1) translate(340 0) rotate(-213.1)">A6</text>
<text class="cl" transform="rotate(239.3) translate(340 0) rotate(-239.3)">A7</text>
</g>
</g>
</svg>
